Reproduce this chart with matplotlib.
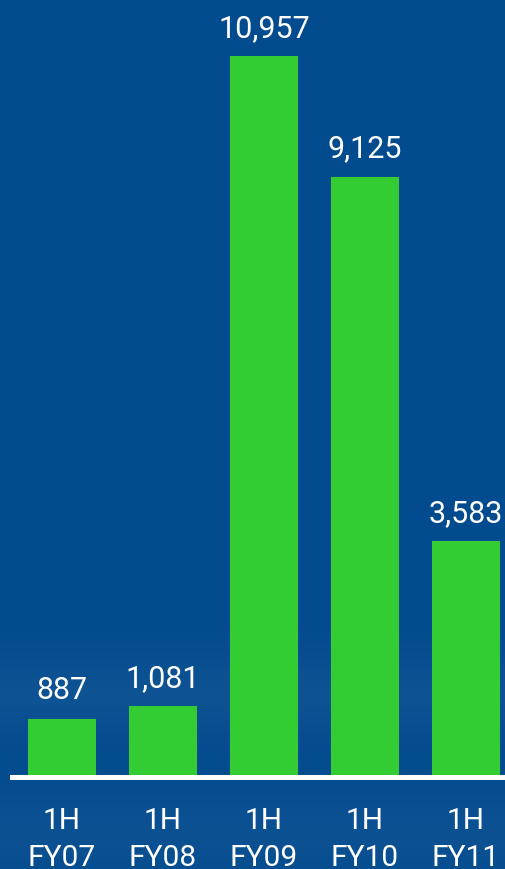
import numpy as np
import matplotlib.pyplot as plt

plt.rcParams['font.family'] = ['Roboto', 'DejaVu Sans']

# Data
periodos = ['1H\nFY07', '1H\nFY08', '1H\nFY09', '1H\nFY10', '1H\nFY11']
valores = [887, 1081, 10957, 9125, 3583]
rotulos = ['887', '1,081', '10,957', '9,125', '3,583']

fundo = '#024b8e'
verde = '#33cc33'

fig = plt.figure(figsize=(5.06, 8.70), dpi=100)
fig.patch.set_facecolor(fundo)

# subtle lighter band near the bottom (background photo)
bg = fig.add_axes([0, 0, 1, 1], zorder=0)
yy = np.linspace(0, 1, 200)[:, None]
band = np.exp(-((yy - 0.2) / 0.05) ** 2) * 0.3 + np.exp(-((yy - 0.04) / 0.05) ** 2) * 0.25
img = np.zeros((200, 2, 3))
base = np.array([2, 75, 142]) / 255
light = np.array([40, 100, 160]) / 255
img[:] = base + (light - base) * band[:, :, None]
bg.imshow(img, aspect='auto', extent=[0, 1, 0, 1], origin='lower')
bg.axis('off')

ax = fig.add_axes([12 / 506, 92 / 870, 494 / 506, 778 / 870], zorder=1)
ax.patch.set_alpha(0)

x = np.arange(len(valores))
barras = ax.bar(x, valores, width=0.67, color=verde)

for xi, v, r in zip(x, valores, rotulos):
    ax.annotate(r, (xi, v), xytext=(0, 14.5), textcoords='offset points',
                ha='center', va='baseline', color='white', fontsize=22)

ax.set_xlim(-0.495, 4.396)
ax.set_ylim(0, 11824)
ax.set_xticks(x)
ax.set_xticklabels(periodos, color='white', fontsize=21.5, linespacing=1.4)
ax.tick_params(axis='x', length=0, pad=21)
ax.set_yticks([])

for lado in ['top', 'right', 'left']:
    ax.spines[lado].set_visible(False)
ax.spines['bottom'].set_color('white')
ax.spines['bottom'].set_linewidth(3.6)

fig.savefig('out.png', dpi=100, facecolor=fundo)
